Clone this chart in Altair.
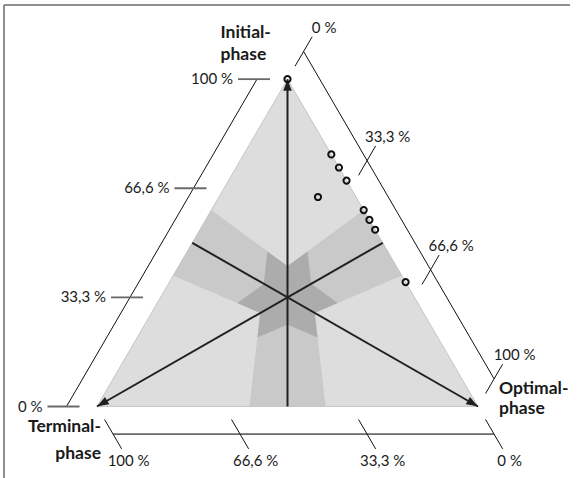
import numpy as np
import pandas as pd
import altair as alt

# ---------------- data ----------------
initial  = [1.00, 0.77, 0.73, 0.69, 0.64, 0.60, 0.57, 0.54, 0.38]
optimal  = [0.00, 0.23, 0.27, 0.31, 0.26, 0.40, 0.43, 0.46, 0.62]
terminal = [0.00, 0.00, 0.00, 0.00, 0.10, 0.00, 0.00, 0.00, 0.00]

tick_values = [0.0, 1/3, 2/3, 1.0]
tick_labels = ["0 %", "33,3 %", "66,6 %", "100 %"]

band_low, band_high = 0.4, 0.6

title_initial = ["Initial-", "phase"]
title_optimal = ["Optimal-", "phase"]
title_terminal = ["Terminal-", "phase"]

# ---------------- geometry helpers ----------------
W, HT = 577, 478
KX, KY = 381.0, 378.0          # pixels per unit (x, y)
OX, OY = 97.0, 406.5           # pixel position of the Terminal vertex
R3 = np.sqrt(3) / 2
FONT = "Lato"


def xy(p):
    i, o, t = p
    s = i + o + t
    return (o + i / 2) / s, (i * R3) / s


def off(dx, dy):
    """pixel offset (dy positive = down) -> data offset"""
    return dx / KX, -dy / KY


def unit_px(a, b):
    """unit direction in pixel space from data point a to data point b"""
    dx = (b[0] - a[0]) * KX
    dy = -(b[1] - a[1]) * KY
    n = np.hypot(dx, dy)
    return dx / n, dy / n


x_dom = [-OX / KX, (W - OX) / KX]
y_dom = [(OY - HT) / KY, OY / KY]
XS = alt.Scale(domain=x_dom, nice=False, zero=False)
YS = alt.Scale(domain=y_dom, nice=False, zero=False)


def X(f):
    return alt.X(f"{f}:Q", scale=XS, axis=None)


def Y(f):
    return alt.Y(f"{f}:Q", scale=YS, axis=None)


# ---------------- shaded regions (polygon clipping) ----------------
def clip(poly, f):
    out = []
    n = len(poly)
    for k in range(n):
        a, b = poly[k], poly[(k + 1) % n]
        fa, fb = f(a), f(b)
        if fa >= 0:
            out.append(a)
        if (fa >= 0) != (fb >= 0):
            t = fa / (fa - fb)
            out.append(tuple(a[j] + t * (b[j] - a[j]) for j in range(3)))
    return out


def clip_all(poly, fs):
    for f in fs:
        poly = clip(poly, f)
        if not poly:
            break
    return poly


def band(j, k):
    return [lambda p: p[j] - band_low * (p[j] + p[k]),
            lambda p: band_high * (p[j] + p[k]) - p[j]]


def minimal(m):
    return [lambda p, n=n: p[n] - p[m] for n in range(3) if n != m]


TRI = [(1.0, 0.0, 0.0), (0.0, 1.0, 0.0), (0.0, 0.0, 1.0)]
bandA, bandB, bandC = band(1, 2), band(0, 1), band(2, 0)
medium_polys = [clip_all(TRI, bandA + minimal(0)),
                clip_all(TRI, bandB + minimal(2)),
                clip_all(TRI, bandC + minimal(1))]
dark_polys = [clip_all(TRI, bandA + bandB),
              clip_all(TRI, bandB + bandC),
              clip_all(TRI, bandC + bandA)]


def poly_df(polys):
    rows = []
    for pid, poly in enumerate(polys):
        for k, p in enumerate(poly):
            x, y = xy(p)
            rows.append({"poly": pid, "k": k, "x": x, "y": y})
    return pd.DataFrame(rows)


def poly_layer(polys, color):
    return alt.Chart(poly_df(polys)).mark_line(
        fill=color, strokeOpacity=0, strokeWidth=0, interpolate="linear"
    ).encode(x=X("x"), y=Y("y"), detail="poly:N", order="k:Q")


light = poly_layer([TRI], "#dddddd")
medium = poly_layer(medium_polys, "#c9c9c9")
dark = poly_layer(dark_polys, "#adacac")

outline_df = pd.DataFrame([{"k": k, "x": xy(p)[0], "y": xy(p)[1]}
                           for k, p in enumerate(TRI + [TRI[0]])])
outline = alt.Chart(outline_df).mark_line(color="#c6c6c6", strokeWidth=1).encode(
    x=X("x"), y=Y("y"), order="k:Q")


# ---------------- medians with arrows ----------------
def rules(rows, color, width):
    return alt.Chart(pd.DataFrame(rows)).mark_rule(color=color, strokeWidth=width).encode(
        x=X("x1"), y=Y("y1"), x2="x2:Q", y2="y2:Q")


V_I, V_O, V_T = (1, 0, 0), (0, 1, 0), (0, 0, 1)
CEN = xy((1, 1, 1))
med_rows = []
for v, mid in [(V_I, (0, .5, .5)), (V_T, (.5, .5, 0)), (V_O, (.5, 0, .5))]:
    a, b = xy(v), xy(mid)
    med_rows.append({"x1": a[0], "y1": a[1], "x2": b[0], "y2": b[1]})
medians = rules(med_rows, "#231f20", 2)

arrow_rows = []
for v, ang in [(V_I, 0), (V_O, 120), (V_T, 240)]:
    p = xy(v)
    ux, uy = unit_px(p, CEN)
    dx, dy = off(6 * ux, 6 * uy)
    arrow_rows.append({"x": p[0] + dx, "y": p[1] + dy, "angle": ang})
arrows = alt.Chart(pd.DataFrame(arrow_rows)).mark_point(
    shape="M0,-1L0.75,1L-0.75,1Z", filled=True, color="#231f20", size=130, opacity=1
).encode(x=X("x"), y=Y("y"), angle=alt.Angle("angle:Q", scale=None))

# ---------------- axes ----------------
axis_rows, tick_h_rows, tick_o_rows = [], [], []
lab_left, lab_center = [], []

# Initial axis (left): horizontal ticks
oL = off(-30.5, 0)
a0, a1 = xy((0, 0, 1)), xy((1, 0, 0))
axis_rows.append({"x1": a0[0] + oL[0], "y1": a0[1] + oL[1], "x2": a1[0] + oL[0], "y2": a1[1] + oL[1]})
for v, lab in zip(tick_values, tick_labels):
    b = xy((v, 0, 1 - v))
    bx, by = b[0] + oL[0], b[1] + oL[1]
    tick_h_rows.append({"x1": bx + off(-19, 0)[0], "y1": by, "x2": bx + off(13, 0)[0], "y2": by})
    lab_left.append({"x": bx + off(-24, 0)[0], "y": by, "label": lab})

# Optimal axis (right): ticks parallel to the left edge
ux, uy = unit_px(xy(V_T), xy(V_I))
oR = off(32 * ux, 32 * uy)
a0, a1 = xy((1, 0, 0)), xy((0, 1, 0))
axis_rows.append({"x1": a0[0] + oR[0], "y1": a0[1] + oR[1], "x2": a1[0] + oR[0], "y2": a1[1] + oR[1]})
for v, lab in zip(tick_values, tick_labels):
    b = xy((1 - v, v, 0))
    bx, by = b[0] + oR[0], b[1] + oR[1]
    t1, t2 = off(-17 * ux, -17 * uy), off(17 * ux, 17 * uy)
    tick_o_rows.append({"x1": bx + t1[0], "y1": by + t1[1], "x2": bx + t2[0], "y2": by + t2[1]})
    lo = off(17 * ux + 12, 17 * uy - 9)
    lab_center.append({"x": bx + lo[0], "y": by + lo[1], "label": lab})

# Terminal axis (bottom): ticks parallel to the right edge
dx_, dy_ = unit_px(xy(V_I), xy(V_O))
oB = off(32 * dx_, 32 * dy_)
a0, a1 = xy((0, 0, 1)), xy((0, 1, 0))
bottom_axis = [{"x1": a0[0] + oB[0], "y1": a0[1] + oB[1], "x2": a1[0] + oB[0], "y2": a1[1] + oB[1]}]
for v, lab in zip(tick_values, tick_labels):
    b = xy((0, 1 - v, v))
    bx, by = b[0] + oB[0], b[1] + oB[1]
    t1, t2 = off(-17 * dx_, -17 * dy_), off(17 * dx_, 17 * dy_)
    tick_o_rows.append({"x1": bx + t1[0], "y1": by + t1[1], "x2": bx + t2[0], "y2": by + t2[1]})
    lo = off(17 * dx_ + 7, 17 * dy_ + 12)
    lab_center.append({"x": bx + lo[0], "y": by + lo[1], "label": lab})

axis_lines = rules(axis_rows, "#111111", 1)
bottom_line = rules(bottom_axis, "#6a6a6a", 1.8)
ticks_h = rules(tick_h_rows, "#6a6a6a", 1.8)
ticks_o = rules(tick_o_rows, "#111111", 1)


def text_layer(rows, align, size, weight="normal", baseline="middle"):
    return alt.Chart(pd.DataFrame(rows)).mark_text(
        align=align, baseline=baseline, fontSize=size, fontWeight=weight,
        font=FONT, color="#1a1a1a"
    ).encode(x=X("x"), y=Y("y"), text="label:N")


labels_left = text_layer(lab_left, "right", 15)
labels_center = text_layer(lab_center, "center", 15)

# vertex titles
titles_l, titles_r = [], []
pI, pO, pT = xy(V_I), xy(V_O), xy(V_T)
for txt, dy in zip(title_initial, [-41, -19]):
    o = off(-67, dy)
    titles_l.append({"x": pI[0] + o[0], "y": pI[1] + o[1], "label": txt})
for txt, dy in zip(title_optimal, [-13, 7]):
    o = off(21, dy)
    titles_l.append({"x": pO[0] + o[0], "y": pO[1] + o[1], "label": txt})
for txt, dy in zip(title_terminal, [25, 52]):
    o = off(4, dy)
    titles_r.append({"x": pT[0] + o[0], "y": pT[1] + o[1], "label": txt})
titles_left = text_layer(titles_l, "left", 17.5, "bold", "alphabetic")
titles_right = text_layer(titles_r, "right", 17.5, "bold", "alphabetic")

# ---------------- data points ----------------
pts = pd.DataFrame([{"x": xy((i, o, t))[0], "y": xy((i, o, t))[1]}
                    for i, o, t in zip(initial, optimal, terminal)])
points = alt.Chart(pts).mark_point(
    shape="circle", size=38, filled=False, color="#111111", strokeWidth=2, opacity=1
).encode(x=X("x"), y=Y("y"))

# ---------------- frame ----------------
frame_top = alt.Chart().mark_rule(color="#6a6a6a", strokeWidth=1.5).encode(
    x=alt.value(4), x2=alt.value(570), y=alt.value(5))
frame_left = alt.Chart().mark_rule(color="#6a6a6a", strokeWidth=1.5).encode(
    x=alt.value(4), y=alt.value(5), y2=alt.value(478))

chart = alt.layer(
    frame_top, frame_left,
    light, medium, dark, outline,
    medians, arrows,
    axis_lines, bottom_line, ticks_h, ticks_o,
    labels_left, labels_center, titles_left, titles_right,
    points,
).properties(
    width=W, height=HT, padding=0,
    autosize=alt.AutoSizeParams(type="none"),
).configure_view(stroke=None)

chart.save("out.html", embed_options={"renderer": "svg", "actions": False})
